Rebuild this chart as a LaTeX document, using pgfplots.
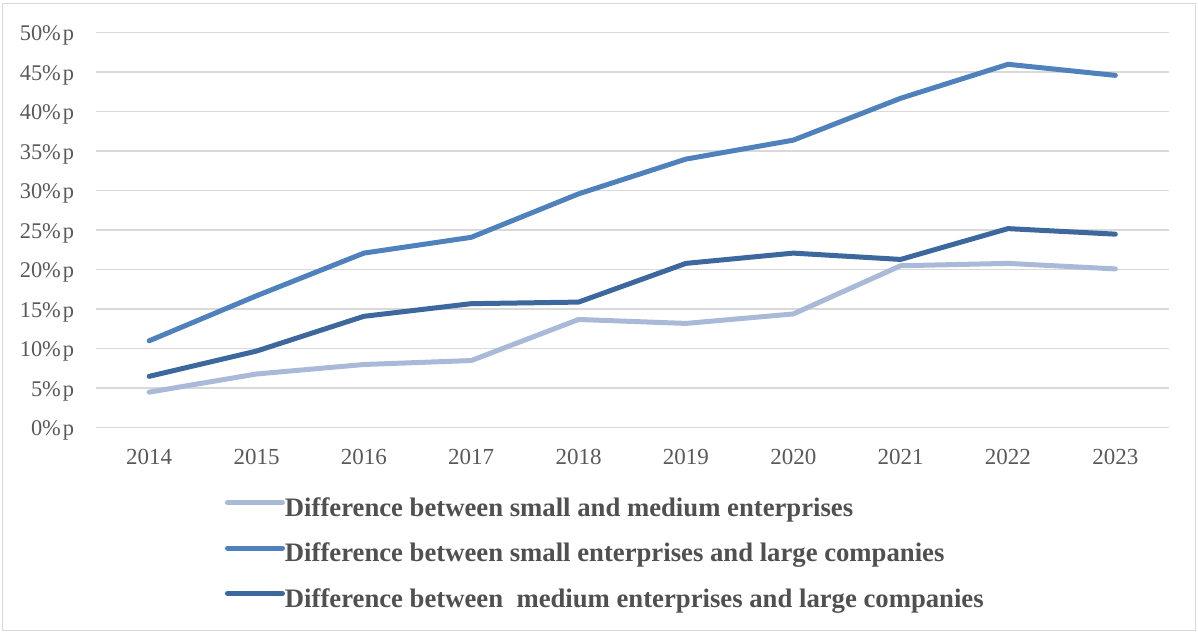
\documentclass[border=0pt]{standalone}
\usepackage{pgfplots}
\pgfplotsset{compat=1.18}
\usepackage{fontspec}
\setmainfont{Liberation Serif}
\definecolor{cLight}{RGB}{169,186,216}
\definecolor{cMid}{RGB}{79,129,189}
\definecolor{cDark}{RGB}{60,104,158}
\definecolor{gridc}{RGB}{217,217,217}
\definecolor{tickc}{RGB}{89,89,89}
\definecolor{legc}{RGB}{80,80,80}
\newcommand{\pp}{\%\kern0.09em p}
\begin{document}
\begin{tikzpicture}
\begin{axis}[
  at={(0,0)}, anchor=south west,
  scale only axis, width=536.75bp, height=197.5bp,
  xmin=2013.5, xmax=2023.5, ymin=0, ymax=50,
  axis line style={draw=none},
  major tick length=0pt,
  xtick={2014,2015,2016,2017,2018,2019,2020,2021,2022,2023},
  xticklabels={2014,2015,2016,2017,2018,2019,2020,2021,2022,2023},
  ytick={0,5,10,15,20,25,30,35,40,45,50},
  yticklabels={0\pp,5\pp,10\pp,15\pp,20\pp,25\pp,30\pp,35\pp,40\pp,45\pp,50\pp},
  ymajorgrids, grid style={color=gridc, line width=0.75bp},
  xticklabel style={font=\fontsize{11.5bp}{13bp}\selectfont, text=tickc, anchor=base, inner sep=0pt, yshift=-18.3bp},
  yticklabel style={font=\fontsize{11.2bp}{13bp}\selectfont, text=tickc, anchor=base east, inner sep=0pt, xshift=-10.5bp, yshift=-4bp},
  legend style={at={(0.1206,-0.178)}, anchor=north west, draw=none, fill=none,
    inner sep=0pt, outer sep=0pt, row sep=11.25bp,
    font=\bfseries\fontsize{13.35bp}{15bp}\selectfont, text=legc,
    nodes={inner sep=0pt, text height=9bp, text depth=2.5bp}},
  legend cell align=left,
  legend image code/.code={\draw[#1, line cap=round] (0bp,3.5bp) -- (27.5bp,3.5bp);},
  every axis plot/.append style={line width=2.5bp, line cap=round, line join=round},
]
\addplot[cLight] coordinates {(2014,4.5) (2015,6.8) (2016,8.0) (2017,8.5) (2018,13.7) (2019,13.2) (2020,14.4) (2021,20.5) (2022,20.8) (2023,20.1)};
\addlegendentry{Difference between small and medium enterprises}
\addplot[cMid] coordinates {(2014,11.0) (2015,16.7) (2016,22.1) (2017,24.1) (2018,29.6) (2019,34.0) (2020,36.4) (2021,41.7) (2022,46.0) (2023,44.6)};
\addlegendentry{Difference between small enterprises and large companies}
\addplot[cDark] coordinates {(2014,6.5) (2015,9.7) (2016,14.1) (2017,15.7) (2018,15.9) (2019,20.8) (2020,22.1) (2021,21.3) (2022,25.2) (2023,24.5)};
\addlegendentry{Difference between \ medium enterprises and large companies}
\end{axis}
\draw[gridc, line width=0.75bp] (-46.4bp,-101.4bp) rectangle (550bp,212.2bp);
\pgfresetboundingbox
\path[use as bounding box] (-47.75bp,-102.65bp) rectangle (551.25bp,213.85bp);
\end{tikzpicture}
\end{document}
